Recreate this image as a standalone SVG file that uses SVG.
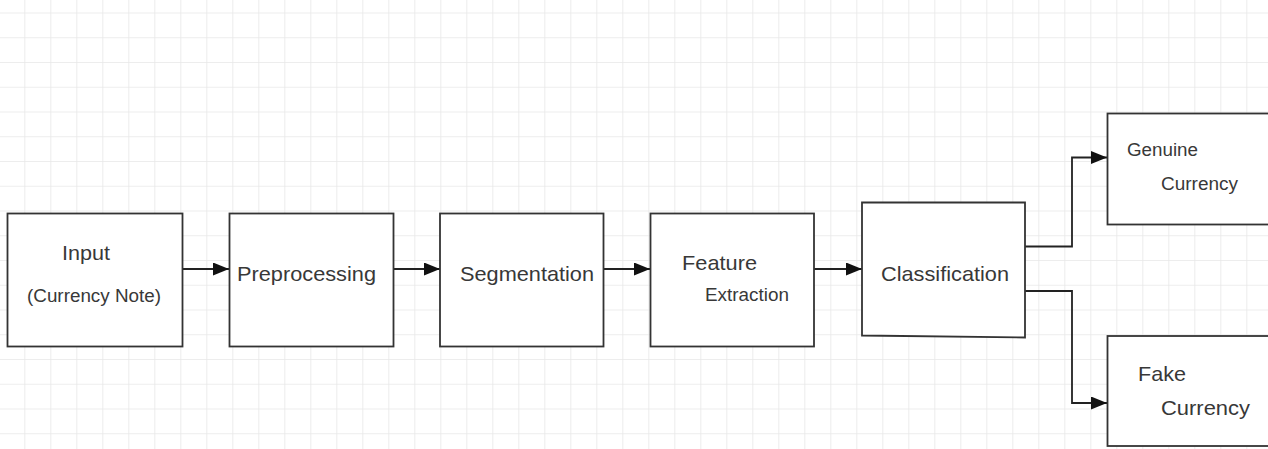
<svg xmlns="http://www.w3.org/2000/svg" width="1268" height="449" viewBox="0 0 1268 449">
  <defs>
    <pattern id="grid" x="24.3" y="12.5" width="26" height="24.75" patternUnits="userSpaceOnUse">
      <path d="M0 0V24.75M0 0H26" fill="none" stroke="#e8e8e8" stroke-width="1.6"/>
    </pattern>
    <marker id="arrow" viewBox="0 0 16 13" refX="16" refY="6.5" markerWidth="16" markerHeight="13" markerUnits="userSpaceOnUse" orient="auto">
      <path d="M0 0L16 6.5L0 13Z" fill="#111"/>
    </marker>
    <style>
      .box { fill: #fff; stroke: #333; stroke-width: 1.8; }
      .lbl { font-family: "Liberation Sans", Arial, sans-serif; fill: #383838; }
      .big { font-size: 21px; }
      .small { font-size: 17.5px; }
      .conn { fill: none; stroke: #222; stroke-width: 1.8; marker-end: url(#arrow); }
    </style>
  </defs>

  <rect width="1268" height="449" fill="#fff"/>
  <rect width="1268" height="449" fill="url(#grid)"/>

  <g id="connectors">
    <path class="conn" d="M183 269H229"/>
    <path class="conn" d="M393 269H440"/>
    <path class="conn" d="M603 269H650"/>
    <path class="conn" d="M814 269H862"/>
    <path class="conn" d="M1025 246.5H1072V157.5H1107"/>
    <path class="conn" d="M1025 291H1072V403H1107"/>
  </g>

  <g id="input">
    <rect class="box" x="7.5" y="213.5" width="175" height="133"/>
    <text class="lbl big" x="62" y="259.5" textLength="48" lengthAdjust="spacingAndGlyphs">Input</text>
    <text class="lbl small" x="27" y="302" textLength="134" lengthAdjust="spacingAndGlyphs">(Currency Note)</text>
  </g>

  <g id="preprocessing">
    <rect class="box" x="229.5" y="213.5" width="164" height="133"/>
    <text class="lbl big" x="237" y="280.5" textLength="139" lengthAdjust="spacingAndGlyphs">Preprocessing</text>
  </g>

  <g id="segmentation">
    <rect class="box" x="440" y="213.5" width="163.5" height="133"/>
    <text class="lbl big" x="460" y="281" textLength="134" lengthAdjust="spacingAndGlyphs">Segmentation</text>
  </g>

  <g id="feature-extraction">
    <rect class="box" x="650.5" y="213.5" width="163.5" height="133"/>
    <text class="lbl big" x="682" y="269.5" textLength="75" lengthAdjust="spacingAndGlyphs">Feature</text>
    <text class="lbl small" x="705" y="301" textLength="84" lengthAdjust="spacingAndGlyphs">Extraction</text>
  </g>

  <g id="classification">
    <path class="box" d="M862 202.5H1025V337.5L862 335.5Z"/>
    <text class="lbl big" x="881" y="281" textLength="128" lengthAdjust="spacingAndGlyphs">Classification</text>
  </g>

  <g id="genuine-currency">
    <rect class="box" x="1107.5" y="113.5" width="170" height="111"/>
    <text class="lbl small" x="1127" y="156" textLength="71" lengthAdjust="spacingAndGlyphs">Genuine</text>
    <text class="lbl small" x="1161" y="190" textLength="77" lengthAdjust="spacingAndGlyphs">Currency</text>
  </g>

  <g id="fake-currency">
    <rect class="box" x="1107.5" y="336" width="170" height="110"/>
    <text class="lbl big" x="1138" y="380.5" textLength="48" lengthAdjust="spacingAndGlyphs">Fake</text>
    <text class="lbl big" x="1161" y="414.5" textLength="89" lengthAdjust="spacingAndGlyphs">Currency</text>
  </g>
</svg>
